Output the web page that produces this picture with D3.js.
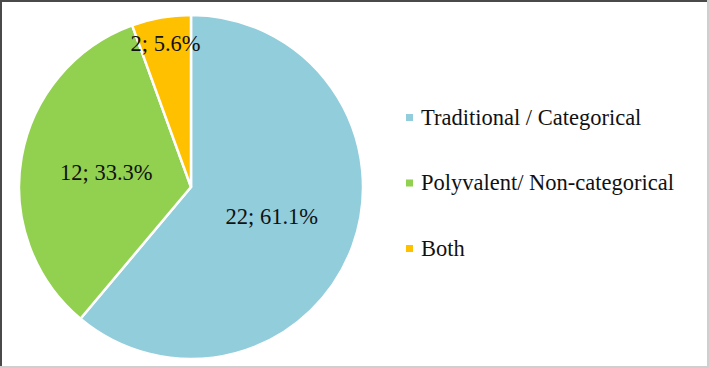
<!DOCTYPE html>
<html><head><meta charset="utf-8">
<script src="https://cdn.jsdelivr.net/npm/d3@7"></script>
<style>html,body{margin:0;padding:0;background:#fff;}svg{display:block;}</style>
</head><body>
<svg id="c" width="709" height="368"></svg>
<script>
const categories = ["Traditional / Categorical", "Polyvalent/ Non-categorical", "Both"];
const values = [22, 12, 2];
const percents = ["61.1%", "33.3%", "5.6%"];
const colors = ["#92CDDC", "#92D050", "#FFC000"];
const labelRadiusFrac = [0.5, 0.5, 0.85];

const svg = d3.select("#c");
const W = 709, H = 368;
const FONT = "'Liberation Serif', 'Times New Roman', serif";
svg.append("rect").attr("x",0).attr("y",0).attr("width",W).attr("height",H).attr("fill","#fff");
svg.append("line").attr("x1",0).attr("y1",1).attr("x2",W).attr("y2",1).attr("stroke","#4a4a4a").attr("stroke-width",2);
svg.append("line").attr("x1",1).attr("y1",0).attr("x2",1).attr("y2",H).attr("stroke","#4a4a4a").attr("stroke-width",2);
svg.append("line").attr("x1",0).attr("y1",H-1).attr("x2",W).attr("y2",H-1).attr("stroke","#cfcfcf").attr("stroke-width",2);
svg.append("line").attr("x1",W-1).attr("y1",0).attr("x2",W-1).attr("y2",H).attr("stroke","#cfcfcf").attr("stroke-width",2);

const cx = 191, cy = 187, r = 172;
const pie = d3.pie().sort(null).value(d => d)(values);
const arc = d3.arc().innerRadius(0).outerRadius(r);
const g = svg.append("g").attr("transform", `translate(${cx},${cy})`);
g.selectAll("path").data(pie).join("path")
  .attr("d", arc)
  .attr("fill", (d,i) => colors[i])
  .attr("stroke", "#fff").attr("stroke-width", 2.5).attr("stroke-linejoin","round");

g.selectAll("text").data(pie).join("text")
  .attr("transform", (d,i) => {
    const la = d3.arc().innerRadius(r*labelRadiusFrac[i]).outerRadius(r*labelRadiusFrac[i]);
    const [x,y] = la.centroid(d);
    return `translate(${x},${y})`;
  })
  .attr("text-anchor","middle").attr("dominant-baseline","central")
  .attr("font-family", FONT)
  .attr("font-size", 22.5).attr("fill","#111")
  .text((d,i) => `${values[i]}; ${percents[i]}`);

const leg = svg.append("g");
const ly = d3.scalePoint().domain(categories).range([117, 248]);
categories.forEach((c,i) => {
  leg.append("rect").attr("x", 406).attr("y", ly(c)-3).attr("width", 7).attr("height", 7).attr("fill", colors[i]);
  leg.append("text").attr("x", 421).attr("y", ly(c)).attr("dominant-baseline","central")
    .attr("font-family", FONT)
    .attr("font-size", 22.5).attr("fill","#111").text(c);
});
</script>
</body></html>
